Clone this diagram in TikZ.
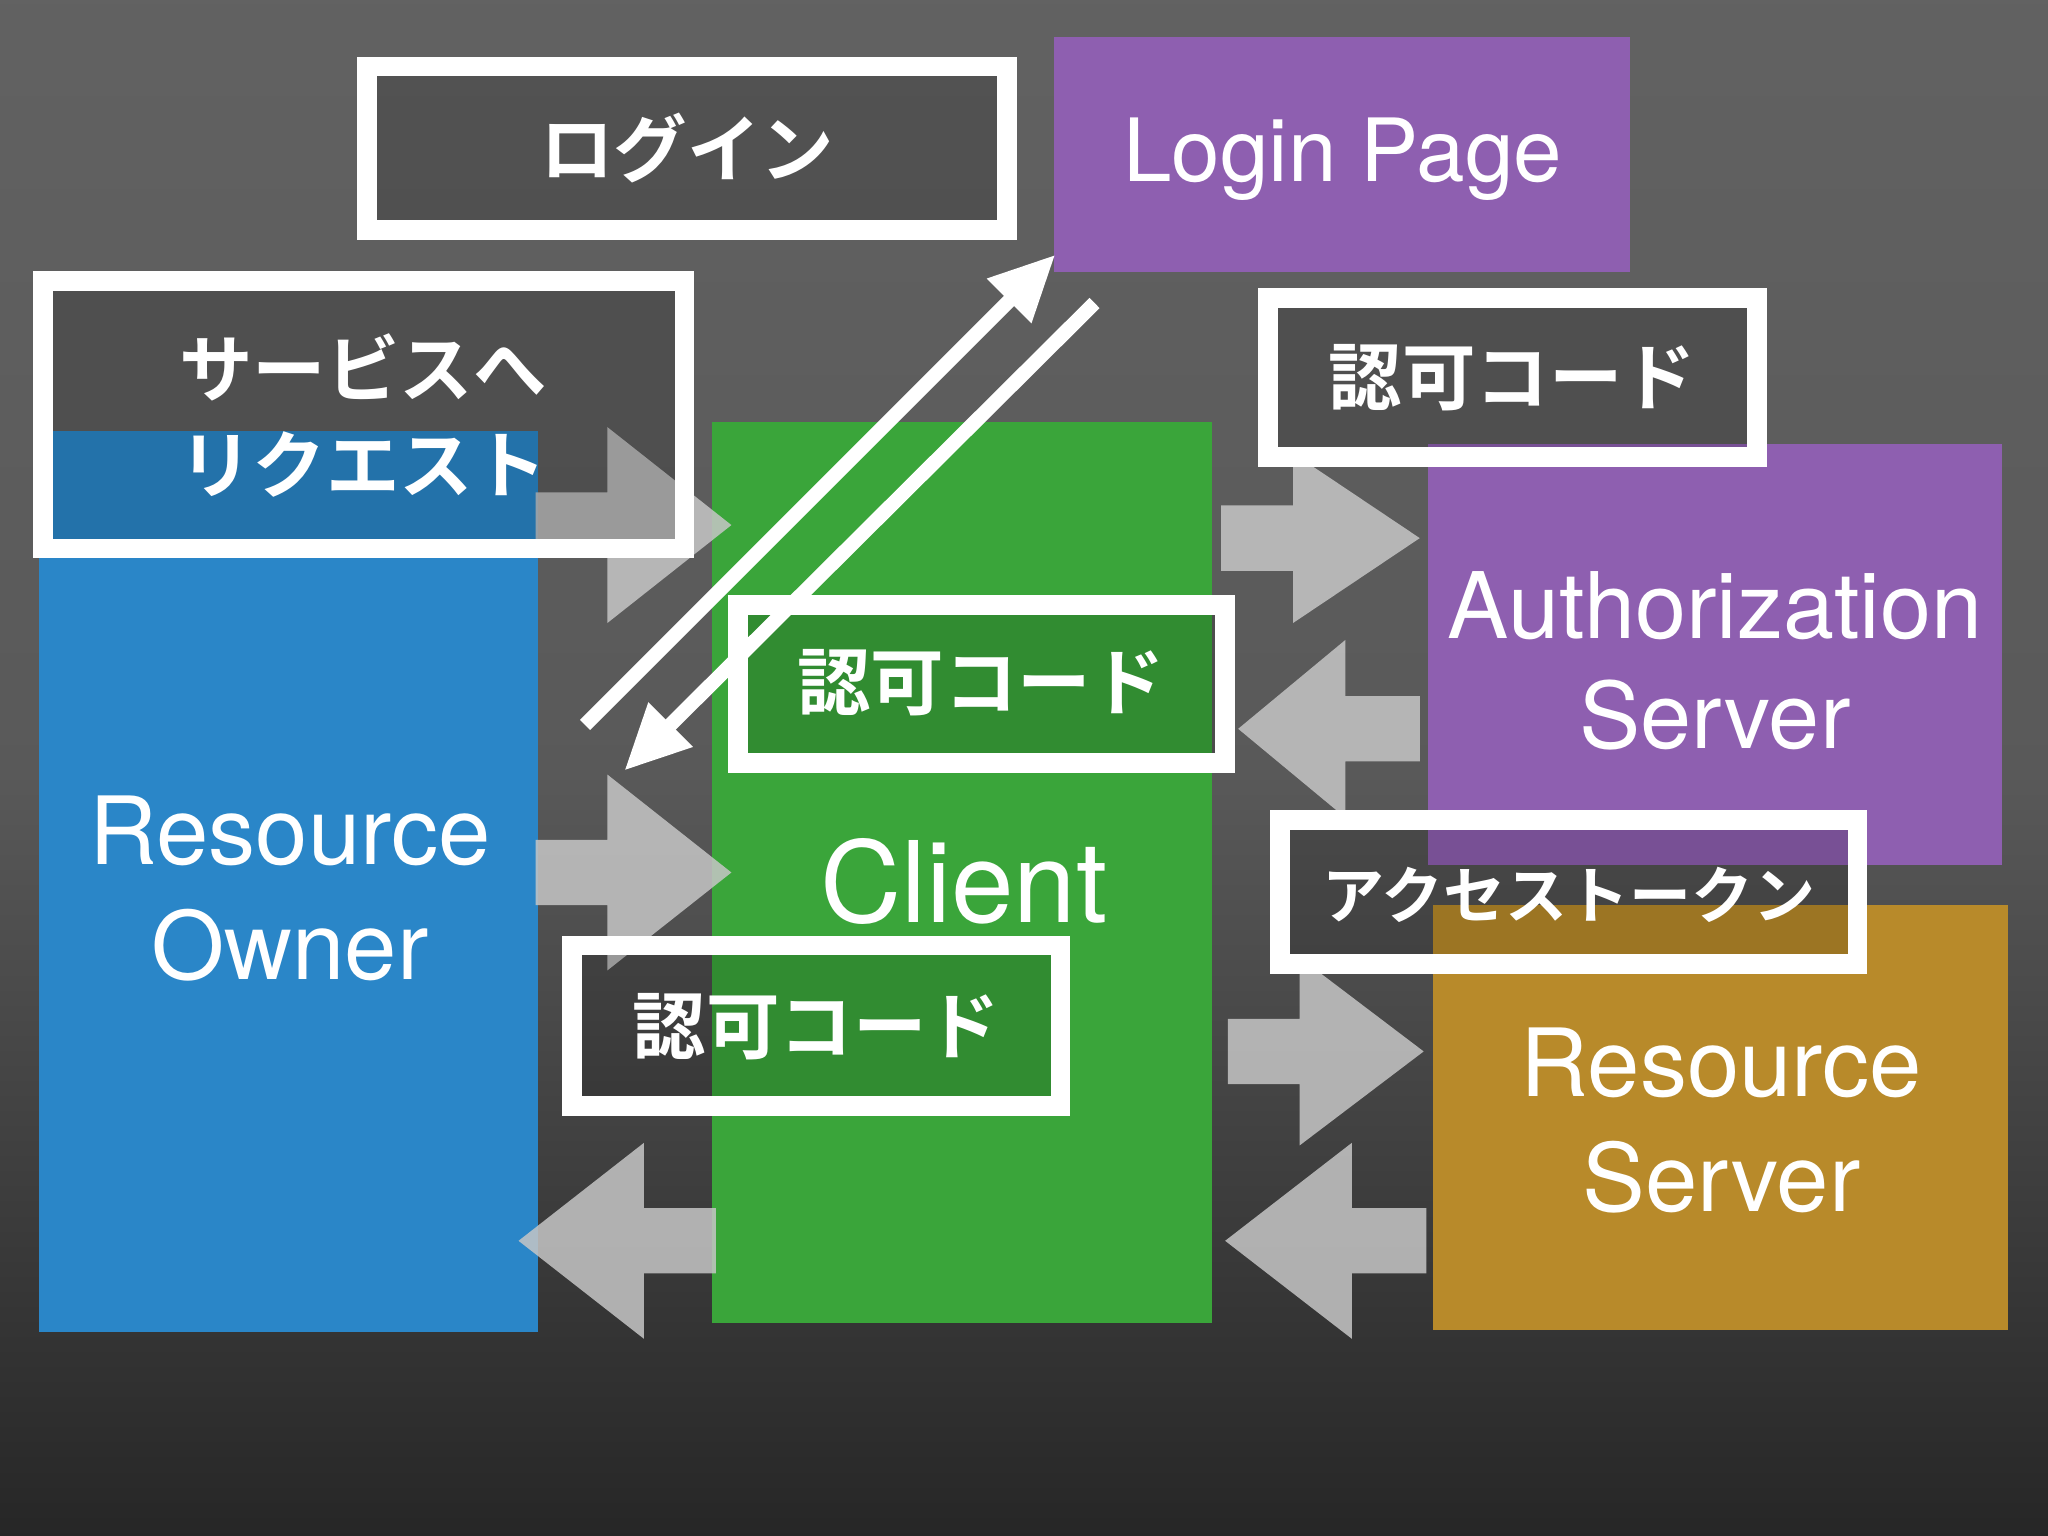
\documentclass[tikz,border=0pt]{standalone}
\usepackage{fontspec}
\setmainfont{TeX Gyre Heros}
\newfontfamily\cjk{Noto Sans CJK JP Bold}
\usetikzlibrary{arrows.meta}
\begin{document}
\begin{tikzpicture}[x=0.01cm,y=-0.01cm,
  lbl/.style={text=white,font=\fontsize{19}{23}\selectfont,align=center},
  jp/.style={text=white,font=\cjk\fontsize{16}{19}\selectfont},
  wbox/.style={draw=white,line width=0.15cm,fill=black,fill opacity=0.15,text opacity=1},
  garrow/.style={fill=gray!45,fill opacity=0.85,draw=none},
  warrow/.style={draw=white,line width=0.11cm,-{Triangle[length=0.5cm,width=0.45cm]}}]
\useasboundingbox (0,0) rectangle (1568,1176);
\shade[top color=gray!70!black!95,bottom color=black!85,middle color=black!65] (0,0) rectangle (1568,1176);
% blocks
\fill[color={rgb,255:red,42;green,134;blue,200}] (30,330) rectangle (412,1020);
\node[lbl,font=\fontsize{20.5}{25}\selectfont] (ro) at (222,680) {Resource\\Owner};
\fill[color={rgb,255:red,58;green,165;blue,58}] (545,323) rectangle (928,1013);
\node[lbl,font=\fontsize{24.5}{28}\selectfont] (cl) at (738,675) {Client};
\fill[color={rgb,255:red,142;green,95;blue,176}] (807,28) rectangle (1248,208);
\node[lbl,font=\fontsize{19}{22}\selectfont] (lp) at (1028,122) {Login Page};
\fill[color={rgb,255:red,142;green,95;blue,176}] (1093,340) rectangle (1533,662);
\node[lbl,font=\fontsize{20}{24}\selectfont] (as) at (1313,506) {Authorization\\Server};
\fill[color={rgb,255:red,184;green,138;blue,42}] (1097,693) rectangle (1537,1018);
\node[lbl,font=\fontsize{20.5}{25}\selectfont] (rs) at (1318,858) {Resource\\Server};
% gray block arrows
\newcommand{\rarr}[5]{\fill[garrow] (#1,#3-25) -- (#2,#3-25) -- (#2,#3-#5) -- (#4,#3) -- (#2,#3+#5) -- (#2,#3+25) -- (#1,#3+25) -- cycle;}
\rarr{410}{465}{402}{560}{75}
\rarr{410}{465}{668}{560}{75}
\rarr{548}{493}{950}{397}{75}
\rarr{935}{990}{412}{1087}{65}
\rarr{1087}{1030}{558}{948}{68}
\rarr{940}{995}{805}{1090}{72}
\rarr{1092}{1035}{950}{938}{75}
% white boxes
\draw[wbox] (281,51) rectangle (771,176);
\node[jp] (t1) at (526,113) {ログイン};
\draw[wbox] (33,215) rectangle (524,420);
\node[jp,align=center] (t2) at (278,318) {サービスへ\\[2pt]リクエスト};
\draw[wbox] (971,228) rectangle (1345,350);
\node[jp] (t3) at (1158,289) {認可コード};
\draw[wbox] (565,463) rectangle (938,584);
\node[jp] (t4) at (751,523) {認可コード};
\draw[wbox] (980,628) rectangle (1422,738);
\node[jp,font=\cjk\fontsize{13.5}{16}\selectfont] (t5) at (1201,685) {アクセストークン};
\draw[wbox] (438,724) rectangle (812,847);
\node[jp] (t6) at (625,786) {認可コード};
% diagonal white arrows
\coordinate (a1s) at (448,555); \coordinate (a1e) at (808,195);
\coordinate (a2s) at (838,232); \coordinate (a2e) at (478,590);
\draw[warrow] (a1s) -- (a1e);
\draw[warrow] (a2s) -- (a2e);
\end{tikzpicture}
\end{document}
